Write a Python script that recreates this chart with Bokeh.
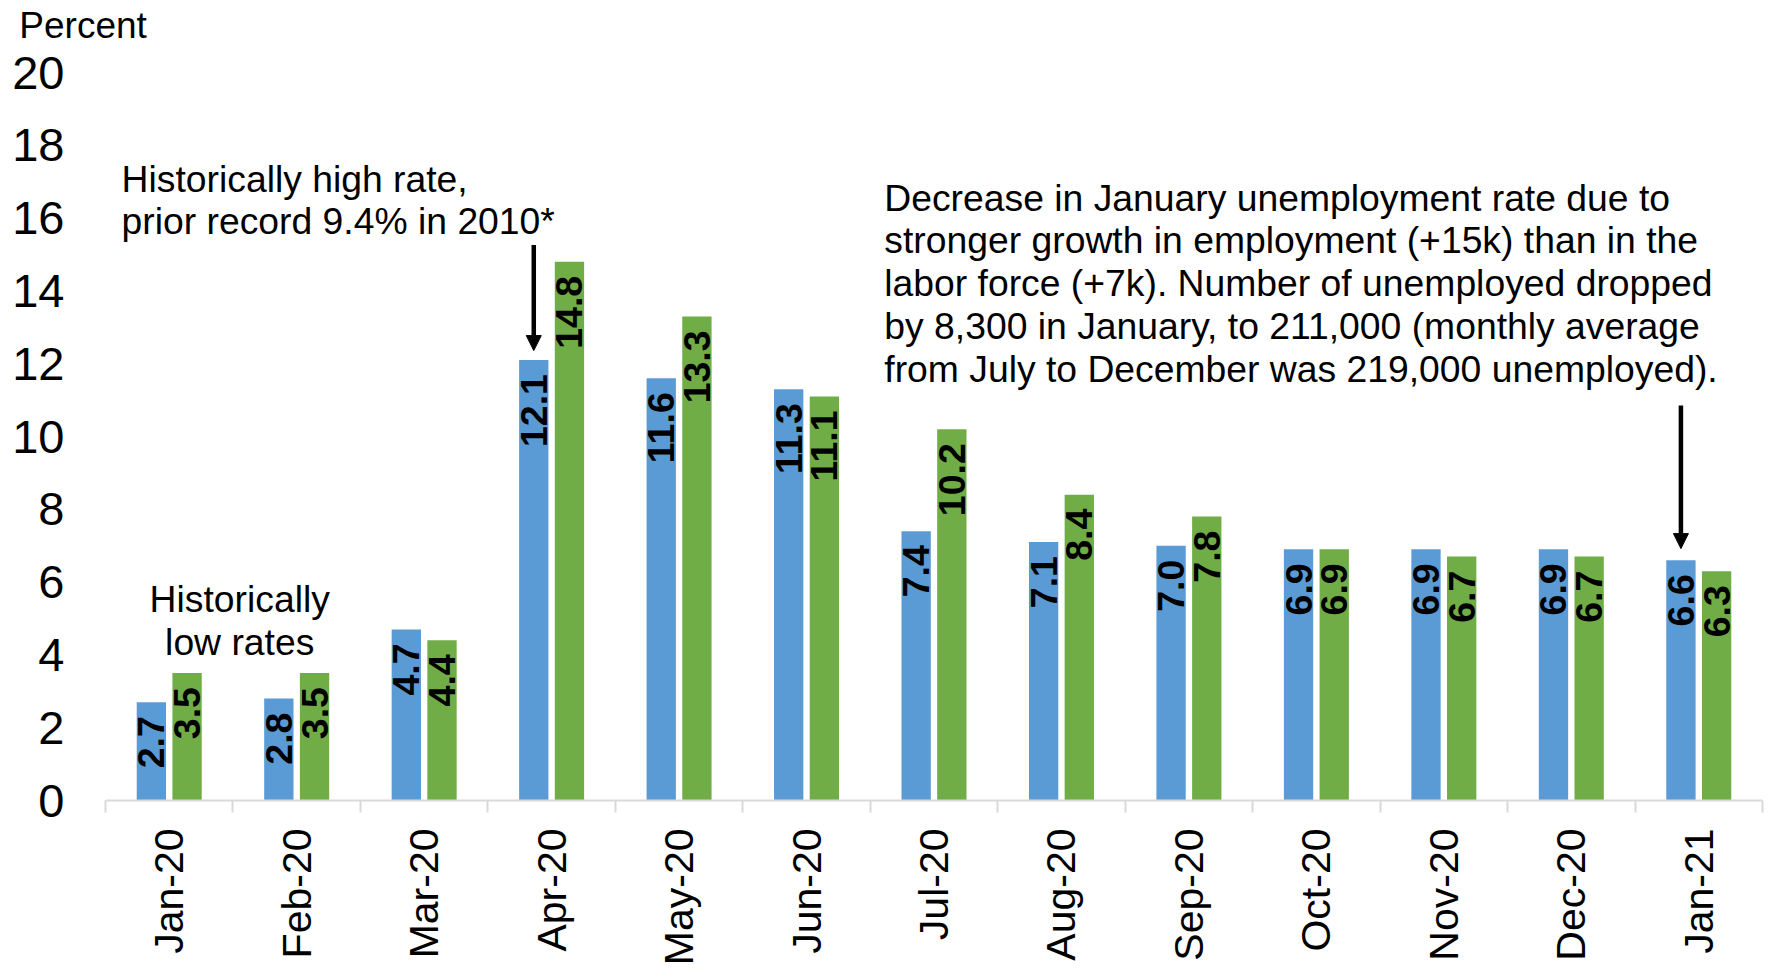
from math import pi
from bokeh.plotting import figure
from bokeh.models import (ColumnDataSource, FixedTicker, Label, Arrow,
                          NormalHead, Range1d, LinearAxis)
from bokeh.core.properties import value
from bokeh.transform import dodge
from bokeh.embed import file_html
from bokeh.resources import INLINE

# ---- data ----
months = ["Jan-20", "Feb-20", "Mar-20", "Apr-20", "May-20", "Jun-20", "Jul-20",
          "Aug-20", "Sep-20", "Oct-20", "Nov-20", "Dec-20", "Jan-21"]
state_rate = [2.7, 2.8, 4.7, 12.1, 11.6, 11.3, 7.4, 7.1, 7.0, 6.9, 6.9, 6.9, 6.6]
us_rate = [3.5, 3.5, 4.4, 14.8, 13.3, 11.1, 10.2, 8.4, 7.8, 6.9, 6.7, 6.7, 6.3]
y_ticks = [0, 2, 4, 6, 8, 10, 12, 14, 16, 18, 20]
unit_label = "Percent"

FONT = "Liberation Sans"
BLUE = "#5B9BD5"
GREEN = "#70AD47"
OFF = 0.14
BW = 0.23

centers = [i + 0.5 for i in range(len(months))]
bounds = [float(i) for i in range(len(months) + 1)]

src = ColumnDataSource(dict(
    x=centers,
    state=state_rate,
    us=us_rate,
    state_lbl=[f"{v:.1f}" for v in state_rate],
    us_lbl=[f"{v:.1f}" for v in us_rate],
))

p = figure(width=1766, height=968, x_range=Range1d(0, len(months)),
           y_range=Range1d(y_ticks[0], y_ticks[-1]),
           output_backend="svg", toolbar_location=None,
           min_border_left=105, min_border_right=4, min_border_top=72,
           min_border_bottom=150)
p.outline_line_color = None
p.xgrid.visible = False
p.ygrid.visible = False
p.background_fill_color = "white"
p.border_fill_color = "white"

p.vbar(x=dodge("x", -OFF), top="state", width=BW, bottom=0, source=src,
       fill_color=BLUE, line_color=None)
p.vbar(x=dodge("x", OFF), top="us", width=BW, bottom=0, source=src,
       fill_color=GREEN, line_color=None)

# value labels inside the bars
for col, lbl, off in (("state", "state_lbl", -OFF), ("us", "us_lbl", OFF)):
    p.text(x=dodge("x", off), y=col, text=lbl, source=src, angle=pi / 2,
           text_align="right", text_baseline="middle", y_offset=14,
           text_font=value(FONT), text_font_style="bold", text_font_size="37.5px",
           text_color="black")

# x axis
xa = p.xaxis[0]
xa.ticker = FixedTicker(ticks=centers, minor_ticks=bounds)
xa.major_label_overrides = {c: m for c, m in zip(centers, months)}
xa.major_label_orientation = pi / 2
xa.major_tick_in = 0
xa.major_tick_out = 0
xa.minor_tick_in = 0
xa.minor_tick_out = 12
xa.minor_tick_line_color = "#D9D9D9"
xa.minor_tick_line_width = 2
xa.axis_line_color = "#D9D9D9"
xa.axis_line_width = 2
xa.major_label_standoff = 16
xa.major_label_text_font = FONT
xa.major_label_text_font_size = "41px"
xa.major_label_text_color = "black"

# y axis
ya = p.yaxis[0]
ya.ticker = FixedTicker(ticks=y_ticks)
ya.axis_line_color = None
ya.major_tick_line_color = None
ya.minor_tick_line_color = None
ya.major_label_standoff = 35
ya.major_label_text_font = FONT
ya.major_label_text_font_size = "47px"
ya.major_label_text_color = "black"

# unit caption above the value axis (drawn as the single label of a top axis)
pct_tick = 0.026
top_ax = LinearAxis(ticker=FixedTicker(ticks=[pct_tick]),
                    major_label_overrides={pct_tick: unit_label + "\u00a0" * 5})
top_ax.axis_line_color = None
top_ax.major_tick_line_color = None
top_ax.minor_tick_line_color = None
top_ax.major_label_standoff = 21
top_ax.major_label_text_font = FONT
top_ax.major_label_text_font_size = "37px"
top_ax.major_label_text_color = "black"
p.add_layout(top_ax, "above")

def add_text(x, y, t, align="left", size="37.3px"):
    p.add_layout(Label(x=x, y=y, text=t, text_align=align, text_baseline="middle",
                       text_font=FONT, text_font_size=size, text_color="black"))

add_text(0.126, 17.07, "Historically high rate,")
add_text(0.126, 15.92, "prior record 9.4% in 2010*")
add_text(1.053, 5.53, "Historically", align="center")
add_text(1.053, 4.36, "low rates", align="center")

right_lines = [
    "Decrease in January unemployment rate due to",
    "stronger growth in employment (+15k) than in the",
    "labor force (+7k). Number of unemployed dropped",
    "by 8,300 in January, to 211,000 (monthly average",
    "from July to December was 219,000 unemployed).",
]
for yy, t in zip([16.56, 15.39, 14.21, 13.04, 11.86], right_lines):
    add_text(6.11, yy, t)

for xx, y0, y1 in ((3.5 - OFF, 15.26, 12.36), (12.5 - OFF, 10.85, 6.92)):
    p.add_layout(Arrow(end=NormalHead(size=15, fill_color="black", line_color="black"),
                       x_start=xx, y_start=y0, x_end=xx, y_end=y1,
                       line_color="black", line_width=4.5))

open("out.html", "w").write(file_html(p, INLINE))
